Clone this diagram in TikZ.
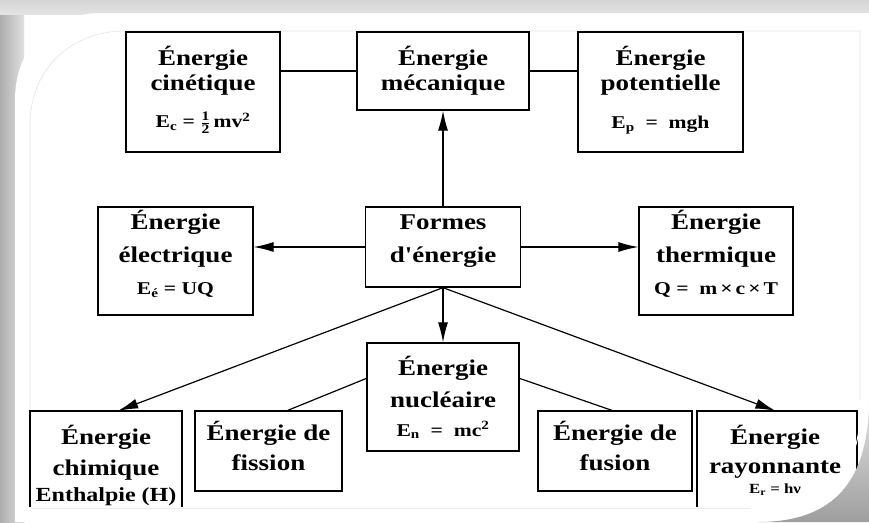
\documentclass[tikz,border=0pt]{standalone}
\usepackage{fontspec}
\setmainfont{Liberation Serif}[FakeStretch=1.2, Ligatures=TeXOff]
\usetikzlibrary{arrows.meta,calc}
\tikzset{
  box/.style={draw=black, line width=1.3pt, fill=white, inner sep=0pt},
  openbox/.style={draw=none, fill=white, inner sep=0pt},
  edge3/.style={draw=black, line width=1.5pt},
  txt/.style={font=\bfseries\fontsize{22.5}{24}\selectfont, inner sep=0pt},
  frm/.style={font=\bfseries\fontsize{#1}{#1}\selectfont, inner sep=0pt},
  conn/.style={line width=1.2pt},
  arr/.style={conn, -{Latex[length=20pt,width=10pt]}}
}
\begin{document}
\begin{tikzpicture}[x=1pt,y=-1pt]
\useasboundingbox (0,0) rectangle (869,522);
% frame
\shade[left color=black!32, right color=black!12] (0,0) rectangle (24,522);
\shade[top color=black!16, bottom color=black!11] (0,0) rectangle (869,14);
\fill[white] (15,522) -- (15,100) .. controls (15,48) and (50,13) .. (102,13) -- (869,13) -- (869,522) -- cycle;
\draw[black!10, line width=0.6pt] (30,508) -- (30,125) .. controls (30,70) and (70,31) .. (125,31) -- (860,31) -- (860,400);

% top row
\node[box, minimum width=154pt, minimum height=120pt] (cin) at (203,92) {};
\node[box, minimum width=172pt, minimum height=78pt] (mec) at (443,71) {};
\node[box, minimum width=165pt, minimum height=120pt] (pot) at (660.5,92) {};
\node[txt] (cin1) at (203,58) {Énergie};
\node[txt] (cin2) at (203,85) {cinétique};
\node[frm=18] (cin3) at (203,123) {E\textsubscript{c} = $\frac{\mbox{\fontsize{13}{13}\selectfont 1}}{\mbox{\fontsize{13}{13}\selectfont 2}}$\,mv\textsuperscript{2}};
\node[txt] (mec1) at (443,58) {Énergie};
\node[txt] (mec2) at (443,85) {mécanique};
\node[txt] (pot1) at (660.5,58) {Énergie};
\node[txt] (pot2) at (660.5,85) {potentielle};
\node[frm=18] (pot3) at (660.5,125) {E\textsubscript{p}\ \ = \ mgh};

% middle row
\node[box, minimum width=155pt, minimum height=108pt] (elec) at (175.5,261) {};
\node[box, minimum width=155pt, minimum height=80pt] (formes) at (443,247) {};
\node[box, minimum width=154pt, minimum height=108pt] (therm) at (716,261) {};
\node[txt] (elec1) at (175.5,222) {Énergie};
\node[txt] (elec2) at (175.5,257) {électrique};
\node[frm=18] (elec3) at (175.5,290) {E\textsubscript{é} = UQ};
\node[txt] (formes1) at (443,222) {Formes};
\node[txt] (formes2) at (443,257) {d'énergie};
\node[txt] (therm1) at (716,222) {Énergie};
\node[txt] (therm2) at (716,257) {thermique};
\node[frm=18] (therm3) at (716,290) {Q = \ m\,×\,c\,×\,T};

% bottom row
\node[box, minimum width=152pt, minimum height=108pt] (nucl) at (443,397) {};
\node[openbox, minimum width=152pt, minimum height=96pt] (chim) at (106,459) {};
\draw[edge3] (chim.south west) -- (chim.north west) -- (chim.north east) -- (chim.south east);
\node[box, minimum width=147pt, minimum height=80pt] (fission) at (268.5,451) {};
\node[box, minimum width=154pt, minimum height=80pt] (fusion) at (615,451) {};
\node[openbox, minimum width=160pt, minimum height=96pt] (rayon) at (777,459) {};
\draw[edge3] (rayon.south west) -- (rayon.north west) -- (rayon.north east) -- (rayon.south east);
\node[txt] (nucl1) at (443,368) {Énergie};
\node[txt] (nucl2) at (443,400) {nucléaire};
\node[frm=18] (nucl3) at (443,430) {E\textsubscript{n} \ = \ mc\textsuperscript{2}};
\node[txt] (chim1) at (106,437) {Énergie};
\node[txt] (chim2) at (106,470) {chimique};
\node[frm=20] (chim3) at (106,497) {Enthalpie (H)};
\node[txt] (fis1) at (268.5,433) {Énergie de};
\node[txt] (fis2) at (268.5,463) {fission};
\node[txt] (fus1) at (615,433) {Énergie de};
\node[txt] (fus2) at (615,463) {fusion};
\node[txt] (ray1) at (775,437) {Énergie};
\node[txt] (ray2) at (775,470) {rayonnante};
\node[frm=14] (ray3) at (775,490) {E\textsubscript{r} = hν};

% connectors
\draw[conn] (mec.west) -- (mec.west -| cin.east);
\draw[conn] (mec.east) -- (mec.east -| pot.west);
\draw[arr] (formes.north) -- (mec.south);
\draw[arr] (formes.west) -- (formes.west -| elec.east);
\draw[arr] (formes.east) -- (formes.east -| therm.west);
\draw[arr] (formes.south) -- (nucl.north);
\coordinate (chimTop) at ($(chim.north west)!0.58!(chim.north east)$);
\coordinate (rayTop) at ($(rayon.north west)!0.49!(rayon.north east)$);
\draw[arr] (formes.south) -- (chimTop);
\draw[arr] (formes.south) -- (rayTop);
\coordinate (nuclW) at ($(nucl.north west)!0.33!(nucl.south west)$);
\coordinate (nuclE) at ($(nucl.north east)!0.33!(nucl.south east)$);
\coordinate (fisTop) at ($(fission.north west)!0.63!(fission.north east)$);
\coordinate (fusTop) at ($(fusion.north west)!0.48!(fusion.north east)$);
\draw[conn] (nuclW) -- (fisTop);
\draw[conn] (nuclE) -- (fusTop);

% bottom corner
\draw[black!8, line width=0.5pt] (30,508) -- (750,508);
\shade[top color=black!12, bottom color=black!38] (869,405) .. controls (867,480) and (835,522) .. (758,522) -- (869,522) -- cycle;
\draw[white, line width=1pt] (861,410) .. controls (858,475) and (825,515) .. (765,519);
\end{tikzpicture}
\end{document}
